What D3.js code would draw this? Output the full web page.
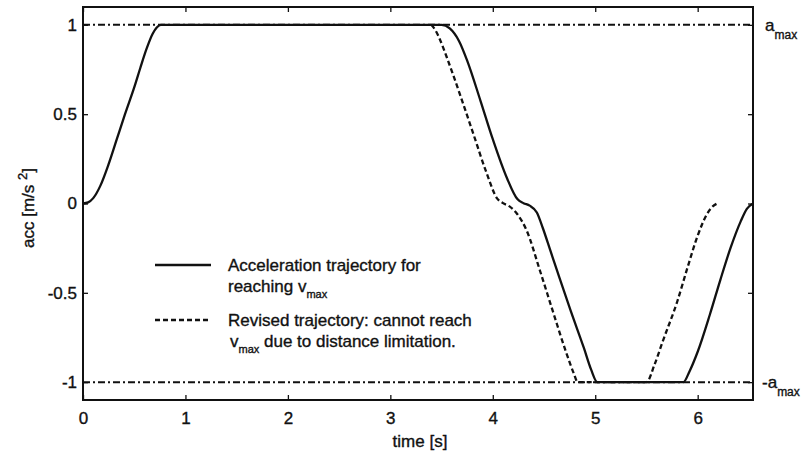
<!DOCTYPE html>
<html>
<head>
<meta charset="utf-8">
<script src="https://cdn.jsdelivr.net/npm/d3@7"></script>
<style>
  body { margin: 0; background: #fff; }
  svg { display: block; }
  text { font-family: "Liberation Sans", Arial, Helvetica, sans-serif; fill: #111; stroke: #111; stroke-width: 0.35px; }
</style>
</head>
<body>
<svg id="chart" width="808" height="459"></svg>
<script>
// ---- data ----
const xTicks = [0, 1, 2, 3, 4, 5, 6];
const yTicks = [-1, -0.5, 0, 0.5, 1];
const yTickLabels = ["-1", "-0.5", "0", "0.5", "1"];
const aMax = 1;

// acceleration trajectory for reaching v_max (time s, acc m/s^2)
const solidTime = [0, 0.05, 0.1, 0.17, 0.25, 0.33, 0.41, 0.5, 0.56, 0.62, 0.68, 0.72, 0.76,
  3.5, 3.58, 3.67, 3.75, 3.88, 4.0, 4.14, 4.24, 4.3, 4.36, 4.43, 4.49, 4.56, 4.63, 4.76, 4.89, 4.96, 5.02,
  5.86, 5.92, 6.0, 6.12, 6.22, 6.32, 6.42, 6.48, 6.54];
const solidAcc = [0, 0.006, 0.03, 0.1, 0.22, 0.36, 0.5, 0.65, 0.76, 0.865, 0.95, 0.985, 1,
  1, 0.98, 0.91, 0.8, 0.575, 0.36, 0.14, 0.025, 0.002, -0.012, -0.05, -0.14, -0.26, -0.38, -0.6, -0.81, -0.93, -1,
  -1, -0.94, -0.83, -0.62, -0.43, -0.25, -0.1, -0.03, 0];

// revised trajectory (cannot reach v_max)
const dashTime = [3.4, 3.44, 3.49, 3.55, 3.68, 3.81, 3.94, 4.04, 4.1, 4.16, 4.24, 4.33, 4.46, 4.59, 4.72, 4.79, 4.83,
  5.5, 5.58, 5.66, 5.8, 5.9, 6.0, 6.09, 6.15, 6.19];
const dashAcc = [1, 0.97, 0.91, 0.82, 0.61, 0.39, 0.17, 0.03, 0.002, -0.015, -0.06, -0.15, -0.375, -0.61, -0.84, -0.95, -1,
  -1, -0.9, -0.77, -0.55, -0.36, -0.18, -0.06, -0.015, 0];

const legendLabels = [
  ["Acceleration trajectory for", "reaching v", "max"],
  ["Revised trajectory: cannot reach", "v", "max", " due to distance limitation."]
];

// ---- layout ----
const svg = d3.select("#chart");
const L = 83, R = 753, T = 7, B = 400;
const x = d3.scaleLinear().domain([0, 6.54]).range([L, R]);
const y = d3.scaleLinear().domain([-1.1, 1.1]).range([B, T]);
const ink = "#111";
const FS = 17;

// reference lines a_max / -a_max
[aMax, -aMax].forEach(v => {
  svg.append("line")
    .attr("x1", x(0)).attr("x2", x(6.54))
    .attr("y1", y(v)).attr("y2", y(v))
    .attr("stroke", ink).attr("stroke-width", 2)
    .attr("stroke-dasharray", "7,3,2,3");
});

const line = d3.line().x(d => x(d[0])).y(d => y(d[1])).curve(d3.curveMonotoneX);
const solid = solidTime.map((t, i) => [t, solidAcc[i]]);
const dashed = dashTime.map((t, i) => [t, dashAcc[i]]);

svg.append("path").datum(dashed).attr("d", line)
  .attr("fill", "none").attr("stroke", ink).attr("stroke-width", 2.3)
  .attr("stroke-dasharray", "5,3");
svg.append("path").datum(solid).attr("d", line)
  .attr("fill", "none").attr("stroke", ink).attr("stroke-width", 2.3);

// axes box
svg.append("rect").attr("x", L).attr("y", T).attr("width", R - L).attr("height", B - T)
  .attr("fill", "none").attr("stroke", ink).attr("stroke-width", 2);

// ticks inward on all sides
const tickLen = 5;
svg.append("g").attr("transform", `translate(0,${B})`)
  .call(d3.axisBottom(x).tickValues(xTicks).tickSize(-tickLen).tickPadding(12).tickFormat(d3.format("d")))
  .call(g => g.select(".domain").remove())
  .call(g => g.selectAll("line").attr("stroke", ink).attr("stroke-width", 1.3))
  .call(g => g.selectAll("text").attr("font-size", FS).attr("fill", ink)
    .attr("font-family", "Liberation Sans, Arial, sans-serif"));
svg.append("g").attr("transform", `translate(0,${T})`)
  .call(d3.axisTop(x).tickValues(xTicks).tickSize(-tickLen).tickFormat(""))
  .call(g => g.select(".domain").remove())
  .call(g => g.selectAll("line").attr("stroke", ink).attr("stroke-width", 1.3));
svg.append("g").attr("transform", `translate(${L},0)`)
  .call(d3.axisLeft(y).tickValues(yTicks).tickSize(-tickLen).tickPadding(6)
    .tickFormat((d, i) => yTickLabels[i]))
  .call(g => g.select(".domain").remove())
  .call(g => g.selectAll("line").attr("stroke", ink).attr("stroke-width", 1.3))
  .call(g => g.selectAll("text").attr("font-size", FS).attr("fill", ink)
    .attr("font-family", "Liberation Sans, Arial, sans-serif"));
svg.append("g").attr("transform", `translate(${R},0)`)
  .call(d3.axisRight(y).tickValues(yTicks).tickSize(-tickLen).tickFormat(""))
  .call(g => g.select(".domain").remove())
  .call(g => g.selectAll("line").attr("stroke", ink).attr("stroke-width", 1.3));

// axis titles
svg.append("text").attr("x", (L + R) / 2 + 2).attr("y", 447).attr("text-anchor", "middle")
  .attr("font-size", FS).text("time [s]");
const yl = svg.append("text").attr("transform", `translate(34,208) rotate(-90)`)
  .attr("text-anchor", "middle").attr("font-size", 17);
yl.append("tspan").text("acc [m/s ");
yl.append("tspan").attr("dy", -7).attr("font-size", 13).text("2");
yl.append("tspan").attr("dy", 7).text("]");

// a_max labels
const amaxTop = svg.append("text").attr("x", 765).attr("y", y(aMax) + 6).attr("font-size", FS);
amaxTop.append("tspan").text("a");
amaxTop.append("tspan").attr("dy", 8).attr("font-size", 12).text("max");
const amaxBot = svg.append("text").attr("x", 762).attr("y", y(-aMax) + 6).attr("font-size", FS);
amaxBot.append("tspan").text("-a");
amaxBot.append("tspan").attr("dy", 8).attr("font-size", 12).text("max");

// legend
const lx1 = 155, lx2 = 211, tx = 228;
svg.append("line").attr("x1", lx1).attr("x2", lx2).attr("y1", 265).attr("y2", 265)
  .attr("stroke", ink).attr("stroke-width", 2.3);
svg.append("line").attr("x1", lx1).attr("x2", lx2).attr("y1", 320).attr("y2", 320)
  .attr("stroke", ink).attr("stroke-width", 2.3).attr("stroke-dasharray", "5,3");

svg.append("text").attr("x", tx).attr("y", 271).attr("font-size", FS).text(legendLabels[0][0]);
const l2 = svg.append("text").attr("x", tx).attr("y", 292).attr("font-size", FS);
l2.append("tspan").text(legendLabels[0][1]);
l2.append("tspan").attr("dy", 6).attr("font-size", 11).text(legendLabels[0][2]);

svg.append("text").attr("x", tx).attr("y", 326).attr("font-size", FS).text(legendLabels[1][0]);
const l4 = svg.append("text").attr("x", tx + 2).attr("y", 347).attr("font-size", FS);
l4.append("tspan").text(legendLabels[1][1]);
l4.append("tspan").attr("dy", 6).attr("font-size", 11).text(legendLabels[1][2]);
l4.append("tspan").attr("dy", -6).text(legendLabels[1][3]);
</script>
</body>
</html>
